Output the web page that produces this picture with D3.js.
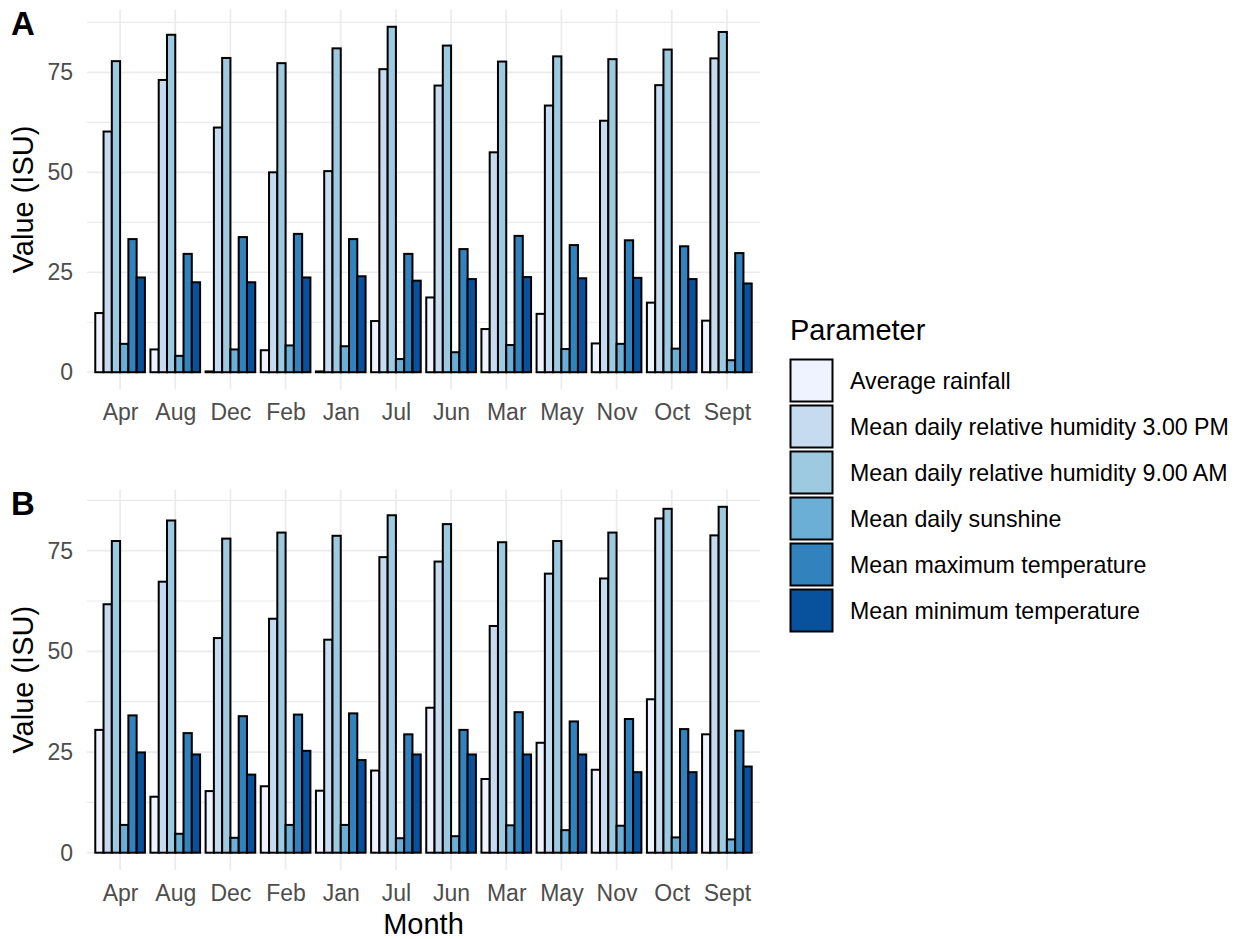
<!DOCTYPE html>
<html>
<head>
<meta charset="utf-8">
<title>Weather parameters by month</title>
<style>
  body { margin: 0; background: #fff; }
  svg { display: block; font-family: "Liberation Sans", Arial, sans-serif; }
</style>
</head>
<body>
<div id="chart"></div>
<script src="https://d3js.org/d3.v7.min.js"></script>
<script>
// categories
var months = ["Apr", "Aug", "Dec", "Feb", "Jan", "Jul", "Jun", "Mar", "May", "Nov", "Oct", "Sept"];
var params = ["Average rainfall", "Mean daily relative humidity 3.00 PM", "Mean daily relative humidity 9.00 AM",
              "Mean daily sunshine", "Mean maximum temperature", "Mean minimum temperature"];
var colors = ["#eff3ff", "#c6dbef", "#9ecae1", "#6baed6", "#3182bd", "#08519c"];
var yTicks = [0, 25, 50, 75];
var yMinor = [12.5, 37.5, 62.5, 87.5];

// panel A values (same month order)
var rainA = [14.8, 5.7, 0.2, 5.5, 0.2, 12.8, 18.7, 10.8, 14.6, 7.2, 17.4, 12.9];
var rh3A  = [60.2, 73.1, 61.2, 50.0, 50.3, 75.8, 71.7, 55.0, 66.7, 62.9, 71.8, 78.5];
var rh9A  = [77.8, 84.4, 78.6, 77.3, 81.0, 86.4, 81.7, 77.7, 79.0, 78.3, 80.7, 85.1];
var sunA  = [7.1, 4.1, 5.7, 6.7, 6.5, 3.3, 5.0, 6.8, 5.8, 7.1, 5.9, 3.0];
var maxA  = [33.3, 29.6, 33.8, 34.6, 33.3, 29.6, 30.8, 34.1, 31.8, 33.0, 31.5, 29.8];
var minA  = [23.7, 22.5, 22.5, 23.7, 24.0, 22.9, 23.3, 23.8, 23.5, 23.6, 23.3, 22.2];

// panel B values
var rainB = [30.5, 13.9, 15.3, 16.5, 15.4, 20.4, 36.0, 18.3, 27.3, 20.6, 38.1, 29.4];
var rh3B  = [61.7, 67.3, 53.3, 58.1, 52.9, 73.4, 72.3, 56.3, 69.3, 68.1, 83.0, 78.8];
var rh9B  = [77.4, 82.5, 78.0, 79.5, 78.7, 83.8, 81.6, 77.1, 77.4, 79.5, 85.4, 85.9];
var sunB  = [6.9, 4.7, 3.7, 6.9, 6.9, 3.6, 4.1, 6.8, 5.6, 6.7, 3.8, 3.3];
var maxB  = [34.1, 29.7, 33.9, 34.3, 34.6, 29.4, 30.5, 34.9, 32.6, 33.2, 30.7, 30.3];
var minB  = [24.9, 24.4, 19.4, 25.3, 23.0, 24.4, 24.4, 24.4, 24.4, 20.0, 20.0, 21.4];

var W = 1251, H = 939;
var svg = d3.select("#chart").append("svg").attr("width", W).attr("height", H);

var left = 87, right = 760;
var x = d3.scalePoint().domain(months).range([left, right]).padding(0.6);
var inner = d3.scaleBand().domain(params).range([-x.step() * 0.45, x.step() * 0.45]);

function panel(tag, series, top, bottom) {
  var g = svg.append("g");
  var ymax = d3.max(series, function(s) { return d3.max(s); });
  var y = d3.scaleLinear().domain([-0.05 * ymax, ymax * 1.05]).range([bottom, top]);

  // grid
  g.selectAll(".minor").data(yMinor.filter(function(v) { return v < ymax * 1.05; }))
    .enter().append("line")
    .attr("x1", left).attr("x2", right)
    .attr("y1", function(d) { return y(d); }).attr("y2", function(d) { return y(d); })
    .attr("stroke", "#ebebeb").attr("stroke-width", 1.2);
  g.selectAll(".major").data(yTicks)
    .enter().append("line")
    .attr("x1", left).attr("x2", right)
    .attr("y1", function(d) { return y(d); }).attr("y2", function(d) { return y(d); })
    .attr("stroke", "#ebebeb").attr("stroke-width", 1.7);
  g.selectAll(".vgrid").data(months)
    .enter().append("line")
    .attr("x1", function(d) { return x(d); }).attr("x2", function(d) { return x(d); })
    .attr("y1", top).attr("y2", bottom)
    .attr("stroke", "#ebebeb").attr("stroke-width", 1.7);

  // bars
  var rows = [];
  months.forEach(function(m, i) {
    params.forEach(function(p, j) { rows.push({ m: m, p: p, v: series[j][i], c: colors[j] }); });
  });
  g.selectAll(".bar").data(rows)
    .enter().append("rect")
    .attr("x", function(d) { return x(d.m) + inner(d.p); })
    .attr("width", inner.bandwidth())
    .attr("y", function(d) { return y(d.v); })
    .attr("height", function(d) { return y(0) - y(d.v); })
    .attr("fill", function(d) { return d.c; })
    .attr("stroke", "#000").attr("stroke-width", 2);

  // axes text
  var yAxis = d3.axisLeft(y).tickValues(yTicks).tickSize(0).tickPadding(14);
  var ya = g.append("g").attr("transform", "translate(" + left + ",0)").call(yAxis);
  ya.select(".domain").remove();
  ya.selectAll("text").attr("font-size", 23).attr("fill", "#4d4d4d")
    .attr("font-family", "Liberation Sans, Arial, sans-serif");

  var xAxis = d3.axisBottom(x).tickSize(0).tickPadding(14);
  var xa = g.append("g").attr("transform", "translate(0," + (bottom + 0.5) + ")").call(xAxis);
  xa.select(".domain").remove();
  xa.selectAll("text").attr("font-size", 23).attr("fill", "#4d4d4d")
    .attr("font-family", "Liberation Sans, Arial, sans-serif");

  g.append("text")
    .attr("transform", "translate(33," + ((top + bottom) / 2) + ") rotate(-90)")
    .attr("text-anchor", "middle").attr("font-size", 29).attr("fill", "#000")
    .text("Value (ISU)");

  g.append("text").attr("x", 11).attr("y", top + 25.5)
    .attr("font-size", 33).attr("font-weight", "bold").text(tag);
}

panel("A", [rainA, rh3A, rh9A, sunA, maxA, minA], 9.5, 389.5);
panel("B", [rainB, rh3B, rh9B, sunB, maxB, minB], 489.5, 870);

svg.append("text").attr("x", (left + right) / 2).attr("y", 934)
  .attr("text-anchor", "middle").attr("font-size", 29).text("Month");

// legend
var lg = svg.append("g");
lg.append("text").attr("x", 790).attr("y", 340).attr("font-size", 29).text("Parameter");
var items = lg.selectAll(".item").data(params).enter().append("g")
  .attr("transform", function(d, i) { return "translate(790," + (359 + i * 46) + ")"; });
items.append("rect").attr("x", 0.5).attr("y", 0.5).attr("width", 42).attr("height", 42)
  .attr("fill", function(d, i) { return colors[i]; })
  .attr("stroke", "#000").attr("stroke-width", 2);
items.append("text").attr("x", 60).attr("y", 21.5 + 8.3).attr("font-size", 23.2)
  .text(function(d) { return d; });
</script>
</body>
</html>
